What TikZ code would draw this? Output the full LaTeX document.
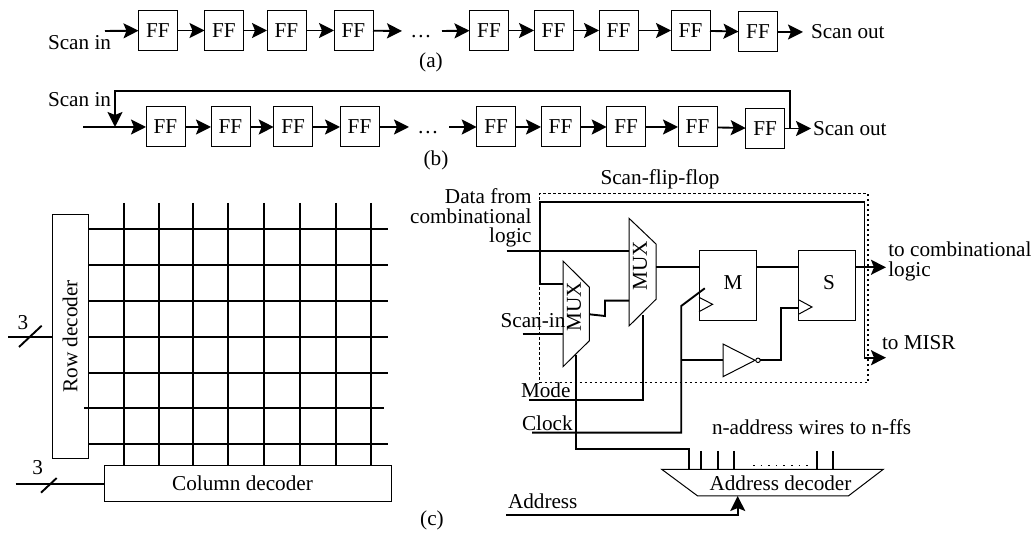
\documentclass[tikz,border=0pt]{standalone}
\usepackage{fontspec}
\setmainfont{Liberation Serif}
\usetikzlibrary{arrows.meta,positioning}

\begin{document}
\begin{tikzpicture}[x=1pt,y=-1pt,>={Stealth[length=15pt,width=15pt,inset=3pt]},
  ff/.style={draw,line width=1pt,minimum width=39pt,minimum height=40pt,inner sep=0pt,outer sep=0pt},
  lab/.style={inner sep=0pt,outer sep=0pt,align=center,font=\fontsize{21.2}{19.5}\selectfont},
  plate/.style={draw,line width=1pt,inner sep=0pt,outer sep=0pt,font=\fontsize{21.2}{20}\selectfont},
  wire/.style={line width=1.9pt},
  thin/.style={line width=1pt},
  every node/.append style={font=\fontsize{21.2}{20}\selectfont}]
\useasboundingbox (0,0) rectangle (1034,534);

\node (a1) [ff] at (158,30.5) {FF};
\node (a2) [ff,right=27pt of a1] {FF};
\node (a3) [ff,right=23.5pt of a2] {FF};
\node (a4) [ff,right=28pt of a3] {FF};
\node (a5) [ff,right=96.5pt of a4] {FF};
\node (a6) [ff,right=25.5pt of a5] {FF};
\node (a7) [ff,right=26pt of a6] {FF};
\node (a8) [ff,right=33pt of a7] {FF};
\node (a9) [ff,right=28.5pt of a8,yshift=-1.5pt] {FF};
\coordinate (ina) at (105,31);
\coordinate (gapa) at (402,31);
\coordinate (gapb) at (442,31);
\coordinate (outa) at (803,32);
\node (scanina) [lab,anchor=west] at (48,43) {Scan in};
\node (scanouta) [lab,anchor=west] at (811,32) {Scan out};
\node (dotsa) [lab] at (421,37) {…};
\node (capa) [lab] at (431,62) {(a)};
\draw[wire,->] (ina) -- (a1);
\draw[wire,->] (a1) -- (a2);
\draw[wire,->] (a2) -- (a3);
\draw[wire,->] (a3) -- (a4);
\draw[wire,->] (a4) -- (gapa);
\draw[wire,->] (gapb) -- (a5);
\draw[wire,->] (a5) -- (a6);
\draw[wire,->] (a6) -- (a7);
\draw[wire,->] (a7) -- (a8);
\draw[wire,->] (a8) -- (a9);
\draw[wire,->] (a9) -- (outa);

\node (b1) [ff] at (165.5,127) {FF};
\node (b2) [ff,right=26pt of b1] {FF};
\node (b3) [ff,right=23.7pt of b2] {FF};
\node (b4) [ff,right=27.3pt of b3] {FF};
\node (b5) [ff,right=97.7pt of b4] {FF};
\node (b6) [ff,right=25.3pt of b5] {FF};
\node (b7) [ff,right=26.7pt of b6] {FF};
\node (b8) [ff,right=32.3pt of b7] {FF};
\node (b9) [ff,right=28.7pt of b8,yshift=-1.5pt] {FF};
\coordinate (inb) at (83,127);
\coordinate (gapc) at (409,127);
\coordinate (gapd) at (449,127);
\coordinate (outb) at (811,128.5);
\coordinate (tap) at (790,128.5);
\coordinate (fbk) at (115,91);
\coordinate (merge) at (115,127);
\node (scaninb) [lab,anchor=west] at (48,100) {Scan in};
\node (scanoutb) [lab,anchor=west] at (813,128.5) {Scan out};
\node (dotsb) [lab] at (428,133) {…};
\node (capb) [lab] at (436,160) {(b)};
\draw[wire,->] (inb) -- (b1);
\draw[wire,->] (b1) -- (b2);
\draw[wire,->] (b2) -- (b3);
\draw[wire,->] (b3) -- (b4);
\draw[wire,->] (b4) -- (gapc);
\draw[wire,->] (gapd) -- (b5);
\draw[wire,->] (b5) -- (b6);
\draw[wire,->] (b6) -- (b7);
\draw[wire,->] (b7) -- (b8);
\draw[wire,->] (b8) -- (b9);
\draw[wire,->] (b9) -- (outb);
\draw[wire,->] (tap) |- (fbk) -- (merge);

\node (rowdec) [plate,minimum width=244pt,minimum height=36pt,rotate=90] at (70,336.3) {Row decoder};
\node (coldec) [plate,minimum width=287.4pt,minimum height=35.7pt] at (248,483.8) {};
\node (collab) [lab] at (242.5,483.5) {Column decoder};
\foreach \x [count=\i] in {123.7,159.3,193,228,264.3,300.3,336,371} {
  \coordinate (col\i) at (\x,203);
  \draw[wire] (col\i) -- (col\i |- coldec.north);
}
\foreach \y [count=\i] in {229,265,300.7,336.7,372.7,444.3} {
  \coordinate (row\i) at (388,\y);
  \draw[wire] (row\i -| rowdec.south) -- (row\i);
}
\coordinate (rowsix) at (384,408.3);
\coordinate (rowsixb) at (84,408.3);
\draw[wire] (rowsixb) -- (rowsix);
\coordinate (rowin) at (8,336.7);
\coordinate (colin) at (15.7,483.7);
\draw[wire] (rowin) -- (rowin -| rowdec.north);
\draw[wire] (colin) -- (colin -| coldec.west);
\draw[wire] (19,347) -- (41.7,325.7);
\draw[wire] (41,492.7) -- (56.7,478);
\node (rowbus) [lab] at (23,322.5) {3};
\node (colbus) [lab] at (37.7,468) {3};
\node (capc) [lab] at (432,520) {(c)};

\node (sff) [draw,line width=1.5pt,dash pattern=on 2.5pt off 2.5pt,minimum width=328.4pt,minimum height=189.4pt,inner sep=0pt,outer sep=0pt] at (703.9,288) {};
\node (sfflab) [lab] at (660,179) {Scan-flip-flop};
\draw[thin] (563,261) -- (589.4,287.3) -- (589.4,340.7) -- (563,366.7) -- cycle;
\draw[thin] (629,218.3) -- (656,244) -- (656,299.3) -- (629,326) -- cycle;
\node (muxa) [lab,rotate=90] at (574,307) {MUX};
\node (muxb) [lab,rotate=90] at (640,266) {MUX};
\node (m) [ff,minimum width=57pt,minimum height=69.6pt] at (727.5,285.5) {};
\node (s) [ff,minimum width=56.7pt,minimum height=69.6pt] at (827.3,285.5) {};
\node (mlab) [lab] at (733,283) {M};
\node (slab) [lab] at (829,283) {S};
\draw[thin] (699,297.3) -- (712.6,304.3) -- (699,311.7);
\draw[thin] (799,300) -- (812,307) -- (799,314);
\draw[thin] (723,344) -- (723,376.7) -- (755,360.3) -- cycle;
\node (bubble) [draw,circle,thin,inner sep=0pt,outer sep=0pt,minimum size=4.5pt] at (758,360.3) {};

\node (datalab) [lab,align=right,anchor=east] at (531.5,218) {Data from\\combinational\\logic};
\node (scanlab) [lab,anchor=west] at (500.6,321) {Scan-in};
\node (modelab) [lab,anchor=west] at (521,390.7) {Mode};
\node (clocklab) [lab,anchor=west] at (522,423) {Clock};
\node (addrlab) [lab,anchor=west] at (508,501.7) {Address};
\node (wireslab) [lab,anchor=west] at (712,427) {n-address wires to n-ffs};
\node (combout) [lab,align=left,anchor=west] at (888.3,261) {to combinational\\[0.6pt]logic};
\node (misrout) [lab,anchor=west] at (882,342.7) {to MISR};

\coordinate (logicin) at (506.6,250.7);
\coordinate (muxbtop) at (629,250.7);
\coordinate (scanin) at (522.6,333.7);
\coordinate (muxain) at (563,333.7);
\coordinate (fbin) at (563,284);
\coordinate (fbcorner) at (539.7,201.7);
\coordinate (fbright) at (864.5,201.7);
\coordinate (misr) at (886,357.7);
\coordinate (muxaout) at (589.4,314.3);
\coordinate (jog) at (605,316);
\coordinate (muxbin) at (629,300.7);
\coordinate (muxbout) at (656,267.3);
\coordinate (sout) at (886,267.3);
\coordinate (modein) at (529.3,399.7);
\coordinate (modeup) at (642.6,315);
\coordinate (clockin) at (532,432.7);
\coordinate (clockup) at (681.2,432.7);
\coordinate (clockend) at (681.2,306);
\coordinate (clockarm) at (704.8,288.3);
\coordinate (invin) at (681.2,360.3);
\coordinate (invleft) at (723,360.3);
\coordinate (invup) at (781,360.3);
\coordinate (sclk) at (799,307.7);
\coordinate (selup) at (576,355);
\coordinate (seldown) at (576,449.3);
\coordinate (seltop) at (688.7,469.3);
\coordinate (addrin) at (506,515.3);
\coordinate (addrtip) at (737.7,496);

\draw[wire] (logicin) -- (muxbtop);
\draw[wire] (scanin) -- (muxain);
\draw[wire] (fbin) -| (fbcorner) -- (fbright);
\draw[wire,->] (fbright) |- (misr);
\draw[wire] (muxaout) -- (jog) |- (muxbin);
\draw[wire] (muxbout) -- (m.west |- muxbout);
\draw[wire] (m.east |- muxbout) -- (s.west |- muxbout);
\draw[wire,->] (s.east |- muxbout) -- (sout);
\draw[wire] (modein) -| (modeup);
\draw[wire] (clockin) -- (clockup) -- (clockend) -- (clockarm);
\draw[wire] (invin) -- (invleft);
\draw[wire] (bubble) -- (invup) |- (sclk);
\draw[wire] (selup) |- (seldown) -| (seltop);

\draw[thin] (661.7,469.3) -- (883.3,469.3) -- (848.3,496) -- (697.7,496) -- cycle;
\node (decoder) [lab] at (780.5,483) {Address decoder};
\foreach \x [count=\i] in {701.3,718,734.3,817,833.3} {
  \coordinate (tick\i) at (\x,451);
  \draw[wire] (tick\i) -- (tick\i |- seltop);
}
\draw[line width=1.6pt,dash pattern=on 1.6pt off 6pt] (753,465.7) -- (813,465.7);
\draw[wire,->] (addrin) -| (addrtip);
\end{tikzpicture}
\end{document}
